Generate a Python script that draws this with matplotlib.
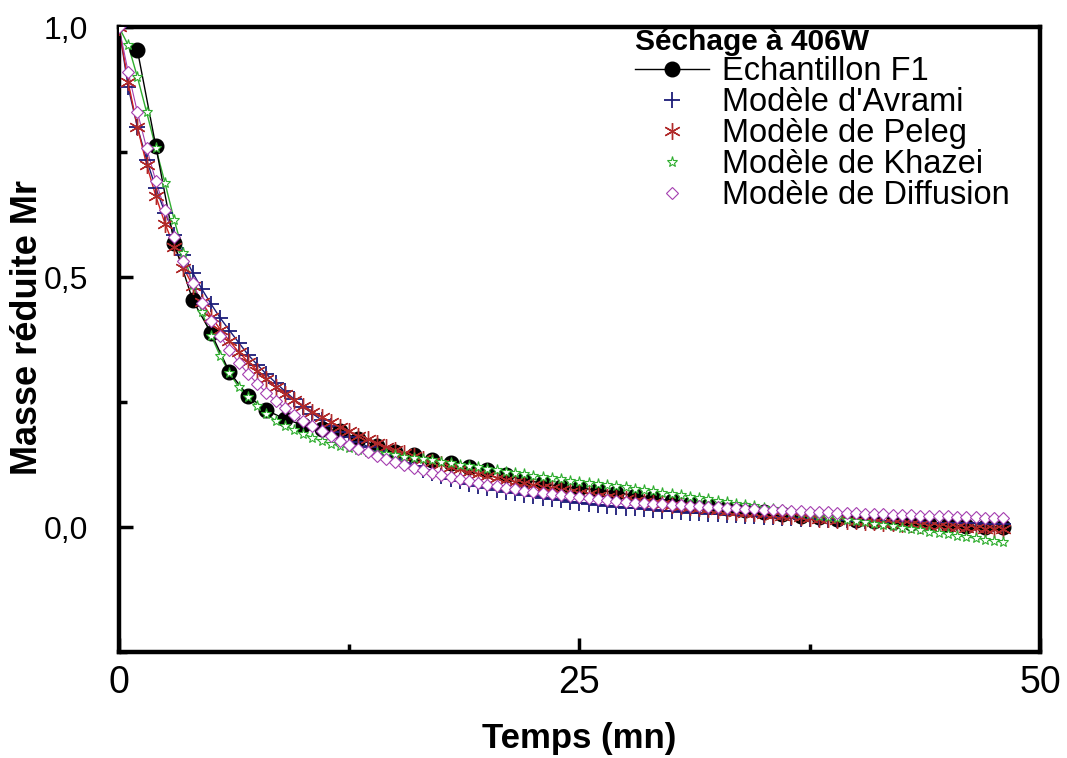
import numpy as np
import matplotlib
matplotlib.use("Agg")
import matplotlib.pyplot as plt
from matplotlib.ticker import MultipleLocator, FixedLocator

plt.rcParams['font.family'] = ['Liberation Sans', 'DejaVu Sans']

# ---------------- data ----------------
f1_time = list(range(1, 49))
f1_mr = [0.954, 0.762, 0.568, 0.454, 0.388, 0.310, 0.262, 0.234, 0.216, 0.204,
         0.197, 0.192, 0.176, 0.162, 0.150, 0.144, 0.134, 0.128, 0.120, 0.114,
         0.104, 0.094, 0.088, 0.080, 0.078, 0.074, 0.069, 0.063, 0.058, 0.052,
         0.047, 0.042, 0.038, 0.034, 0.030, 0.027, 0.023, 0.020, 0.017, 0.014,
         0.012, 0.010, 0.008, 0.006, 0.004, 0.002, 0.001, 0.000]

model_time = np.arange(0, 48.5, 0.5)

avrami = [1.000, 0.880, 0.800, 0.735, 0.678, 0.629, 0.585, 0.545, 0.509, 0.476,
          0.446, 0.418, 0.393, 0.369, 0.345, 0.325, 0.306, 0.289, 0.272, 0.256,
          0.240, 0.227, 0.214, 0.202, 0.191, 0.180, 0.170, 0.161, 0.152, 0.144,
          0.136, 0.129, 0.122, 0.115, 0.109, 0.103, 0.097, 0.092, 0.087, 0.083,
          0.079, 0.075, 0.071, 0.068, 0.065, 0.062, 0.059, 0.056, 0.054, 0.051,
          0.049, 0.047, 0.045, 0.043, 0.041, 0.039, 0.038, 0.036, 0.035, 0.033,
          0.032, 0.031, 0.029, 0.028, 0.027, 0.026, 0.025, 0.024, 0.023, 0.022,
          0.021, 0.020, 0.019, 0.018, 0.017, 0.0165, 0.016, 0.015, 0.0145, 0.014,
          0.013, 0.0125, 0.012, 0.0115, 0.011, 0.0105, 0.010, 0.0095, 0.009, 0.0085,
          0.008, 0.0077, 0.0074, 0.0071, 0.0068, 0.0065, 0.0062]

peleg = [1.000, 0.890, 0.800, 0.725, 0.662, 0.607, 0.560, 0.519, 0.483, 0.450,
         0.421, 0.395, 0.372, 0.350, 0.331, 0.313, 0.296, 0.281, 0.267, 0.254,
         0.242, 0.231, 0.220, 0.210, 0.201, 0.192, 0.183, 0.176, 0.168, 0.161,
         0.155, 0.148, 0.142, 0.136, 0.131, 0.126, 0.121, 0.116, 0.111, 0.107,
         0.103, 0.099, 0.095, 0.091, 0.088, 0.084, 0.081, 0.078, 0.074, 0.071,
         0.069, 0.066, 0.063, 0.061, 0.058, 0.056, 0.053, 0.051, 0.049, 0.046,
         0.044, 0.042, 0.040, 0.038, 0.036, 0.035, 0.033, 0.031, 0.029, 0.028,
         0.026, 0.025, 0.023, 0.022, 0.020, 0.019, 0.017, 0.016, 0.015, 0.013,
         0.012, 0.011, 0.010, 0.0085, 0.0073, 0.0062, 0.0051, 0.0040, 0.0029, 0.0019,
         0.0009, -0.0001, -0.0011, -0.0021, -0.0030, -0.0040, -0.0049]

khazei = [1.000, 0.964, 0.900, 0.830, 0.758, 0.688, 0.614, 0.548, 0.485, 0.430,
          0.383, 0.342, 0.308, 0.280, 0.260, 0.242, 0.226, 0.213, 0.203, 0.194,
          0.186, 0.179, 0.172, 0.167, 0.162, 0.158, 0.154, 0.151, 0.148, 0.146,
          0.144, 0.141, 0.139, 0.136, 0.134, 0.131, 0.128, 0.125, 0.122, 0.120,
          0.117, 0.114, 0.111, 0.108, 0.106, 0.103, 0.100, 0.098, 0.096, 0.093,
          0.091, 0.089, 0.087, 0.085, 0.083, 0.080, 0.077, 0.075, 0.072, 0.069,
          0.067, 0.064, 0.061, 0.058, 0.056, 0.053, 0.050, 0.047, 0.045, 0.042,
          0.039, 0.037, 0.034, 0.031, 0.028, 0.026, 0.023, 0.020, 0.018, 0.015,
          0.012, 0.010, 0.007, 0.004, 0.002, -0.001, -0.004, -0.006, -0.009, -0.012,
          -0.014, -0.017, -0.020, -0.022, -0.025, -0.028, -0.030]

diffusion = [1.000, 0.910, 0.830, 0.758, 0.692, 0.634, 0.580, 0.532, 0.488, 0.448,
             0.413, 0.382, 0.354, 0.329, 0.307, 0.287, 0.269, 0.253, 0.238, 0.225,
             0.213, 0.202, 0.192, 0.182, 0.173, 0.165, 0.157, 0.150, 0.143, 0.137,
             0.131, 0.125, 0.119, 0.114, 0.109, 0.104, 0.100, 0.096, 0.092, 0.088,
             0.085, 0.082, 0.079, 0.076, 0.073, 0.070, 0.068, 0.066, 0.064, 0.062,
             0.060, 0.058, 0.056, 0.054, 0.052, 0.051, 0.049, 0.048, 0.047, 0.046,
             0.045, 0.044, 0.043, 0.042, 0.041, 0.040, 0.039, 0.038, 0.037, 0.036,
             0.035, 0.034, 0.034, 0.033, 0.032, 0.031, 0.031, 0.030, 0.029, 0.029,
             0.028, 0.027, 0.027, 0.026, 0.025, 0.025, 0.024, 0.023, 0.023, 0.022,
             0.022, 0.021, 0.020, 0.020, 0.019, 0.019, 0.018]

labels = ["Echantillon F1", "Modèle d'Avrami", "Modèle de Peleg",
          "Modèle de Khazei", "Modèle de Diffusion"]
legend_title = "Séchage à 406W"
x_ticks = [0, 25, 50]
x_ticklabels = ["0", "25", "50"]
y_ticks = [0.0, 0.5, 1.0]
y_ticklabels = ["0,0", "0,5", "1,0"]

# ---------------- figure ----------------
fig = plt.figure(figsize=(10.67, 7.58), dpi=100)
ax = fig.add_axes([0.1115, 0.1398, 0.8632, 0.8245])

c_av = "#1c1c78"
c_pe = "#b02a2a"
c_kh = "#2fae2f"
c_di = "#a53fb0"

# experimental data
ax.plot(f1_time, f1_mr, color="black", lw=1.0, marker="o", ms=10.5,
        mfc="black", mec="black", label=labels[0], zorder=3)

# model connecting lines
ax.plot(model_time, avrami, color=c_av, lw=1.0, zorder=2)
ax.plot(model_time, peleg, color="#d02020", lw=1.0, zorder=2)
ax.plot(model_time, khazei, color=c_kh, lw=1.0, zorder=2)
ax.plot(model_time, diffusion, color=c_di, lw=0.8, zorder=2)

# model markers
ax.plot(model_time, avrami, ls="none", marker="+", ms=12, mew=1.3,
        color=c_av, label=labels[1], zorder=4)
ax.plot(model_time, peleg, ls="none", marker=(6, 2, 0), ms=12, mew=1.0,
        color=c_pe, label=labels[2], zorder=4)
ax.plot(model_time, khazei, ls="none", marker="*", ms=8, mew=0.8,
        mfc="white", mec=c_kh, label=labels[3], zorder=5)
ax.plot(model_time, diffusion, ls="none", marker="D", ms=6.5, mew=0.8,
        mfc="white", mec=c_di, label=labels[4], zorder=5)

ax.set_xlim(0, 50)
ax.set_ylim(-0.25, 1.0)

ax.xaxis.set_major_locator(FixedLocator(x_ticks))
ax.set_xticklabels(x_ticklabels)
ax.xaxis.set_minor_locator(MultipleLocator(12.5))
ax.yaxis.set_major_locator(FixedLocator(y_ticks))
ax.set_yticklabels(y_ticklabels)
ax.yaxis.set_minor_locator(MultipleLocator(0.25))

ax.tick_params(which="both", direction="in", top=False, right=False)
ax.tick_params(which="major", length=10, width=2.5)
ax.tick_params(axis="x", which="major", pad=9, labelsize=27)
ax.tick_params(axis="y", which="major", pad=22, labelsize=23)
ax.tick_params(which="minor", length=6, width=2.5)

for sp in ax.spines.values():
    sp.set_linewidth(3.2)

ax.set_xlabel("Temps (mn)", fontsize=25, fontweight="bold")
ax.xaxis.set_label_coords(0.5, -0.112)
ax.set_ylabel("Masse réduite Mr", fontsize=26, fontweight="bold")
ax.yaxis.set_label_coords(-0.08, 0.52)

leg = ax.legend(loc="upper left", bbox_to_anchor=(0.557, 1.003), frameon=False,
                fontsize=23.5, title=legend_title,
                title_fontproperties={"weight": "bold", "size": 21.5},
                alignment="left", handlelength=2.25, handletextpad=0.42,
                labelspacing=0.0, borderaxespad=0.0, borderpad=0.1,
                markerscale=1.0)

fig.savefig("out.png", dpi=100)
